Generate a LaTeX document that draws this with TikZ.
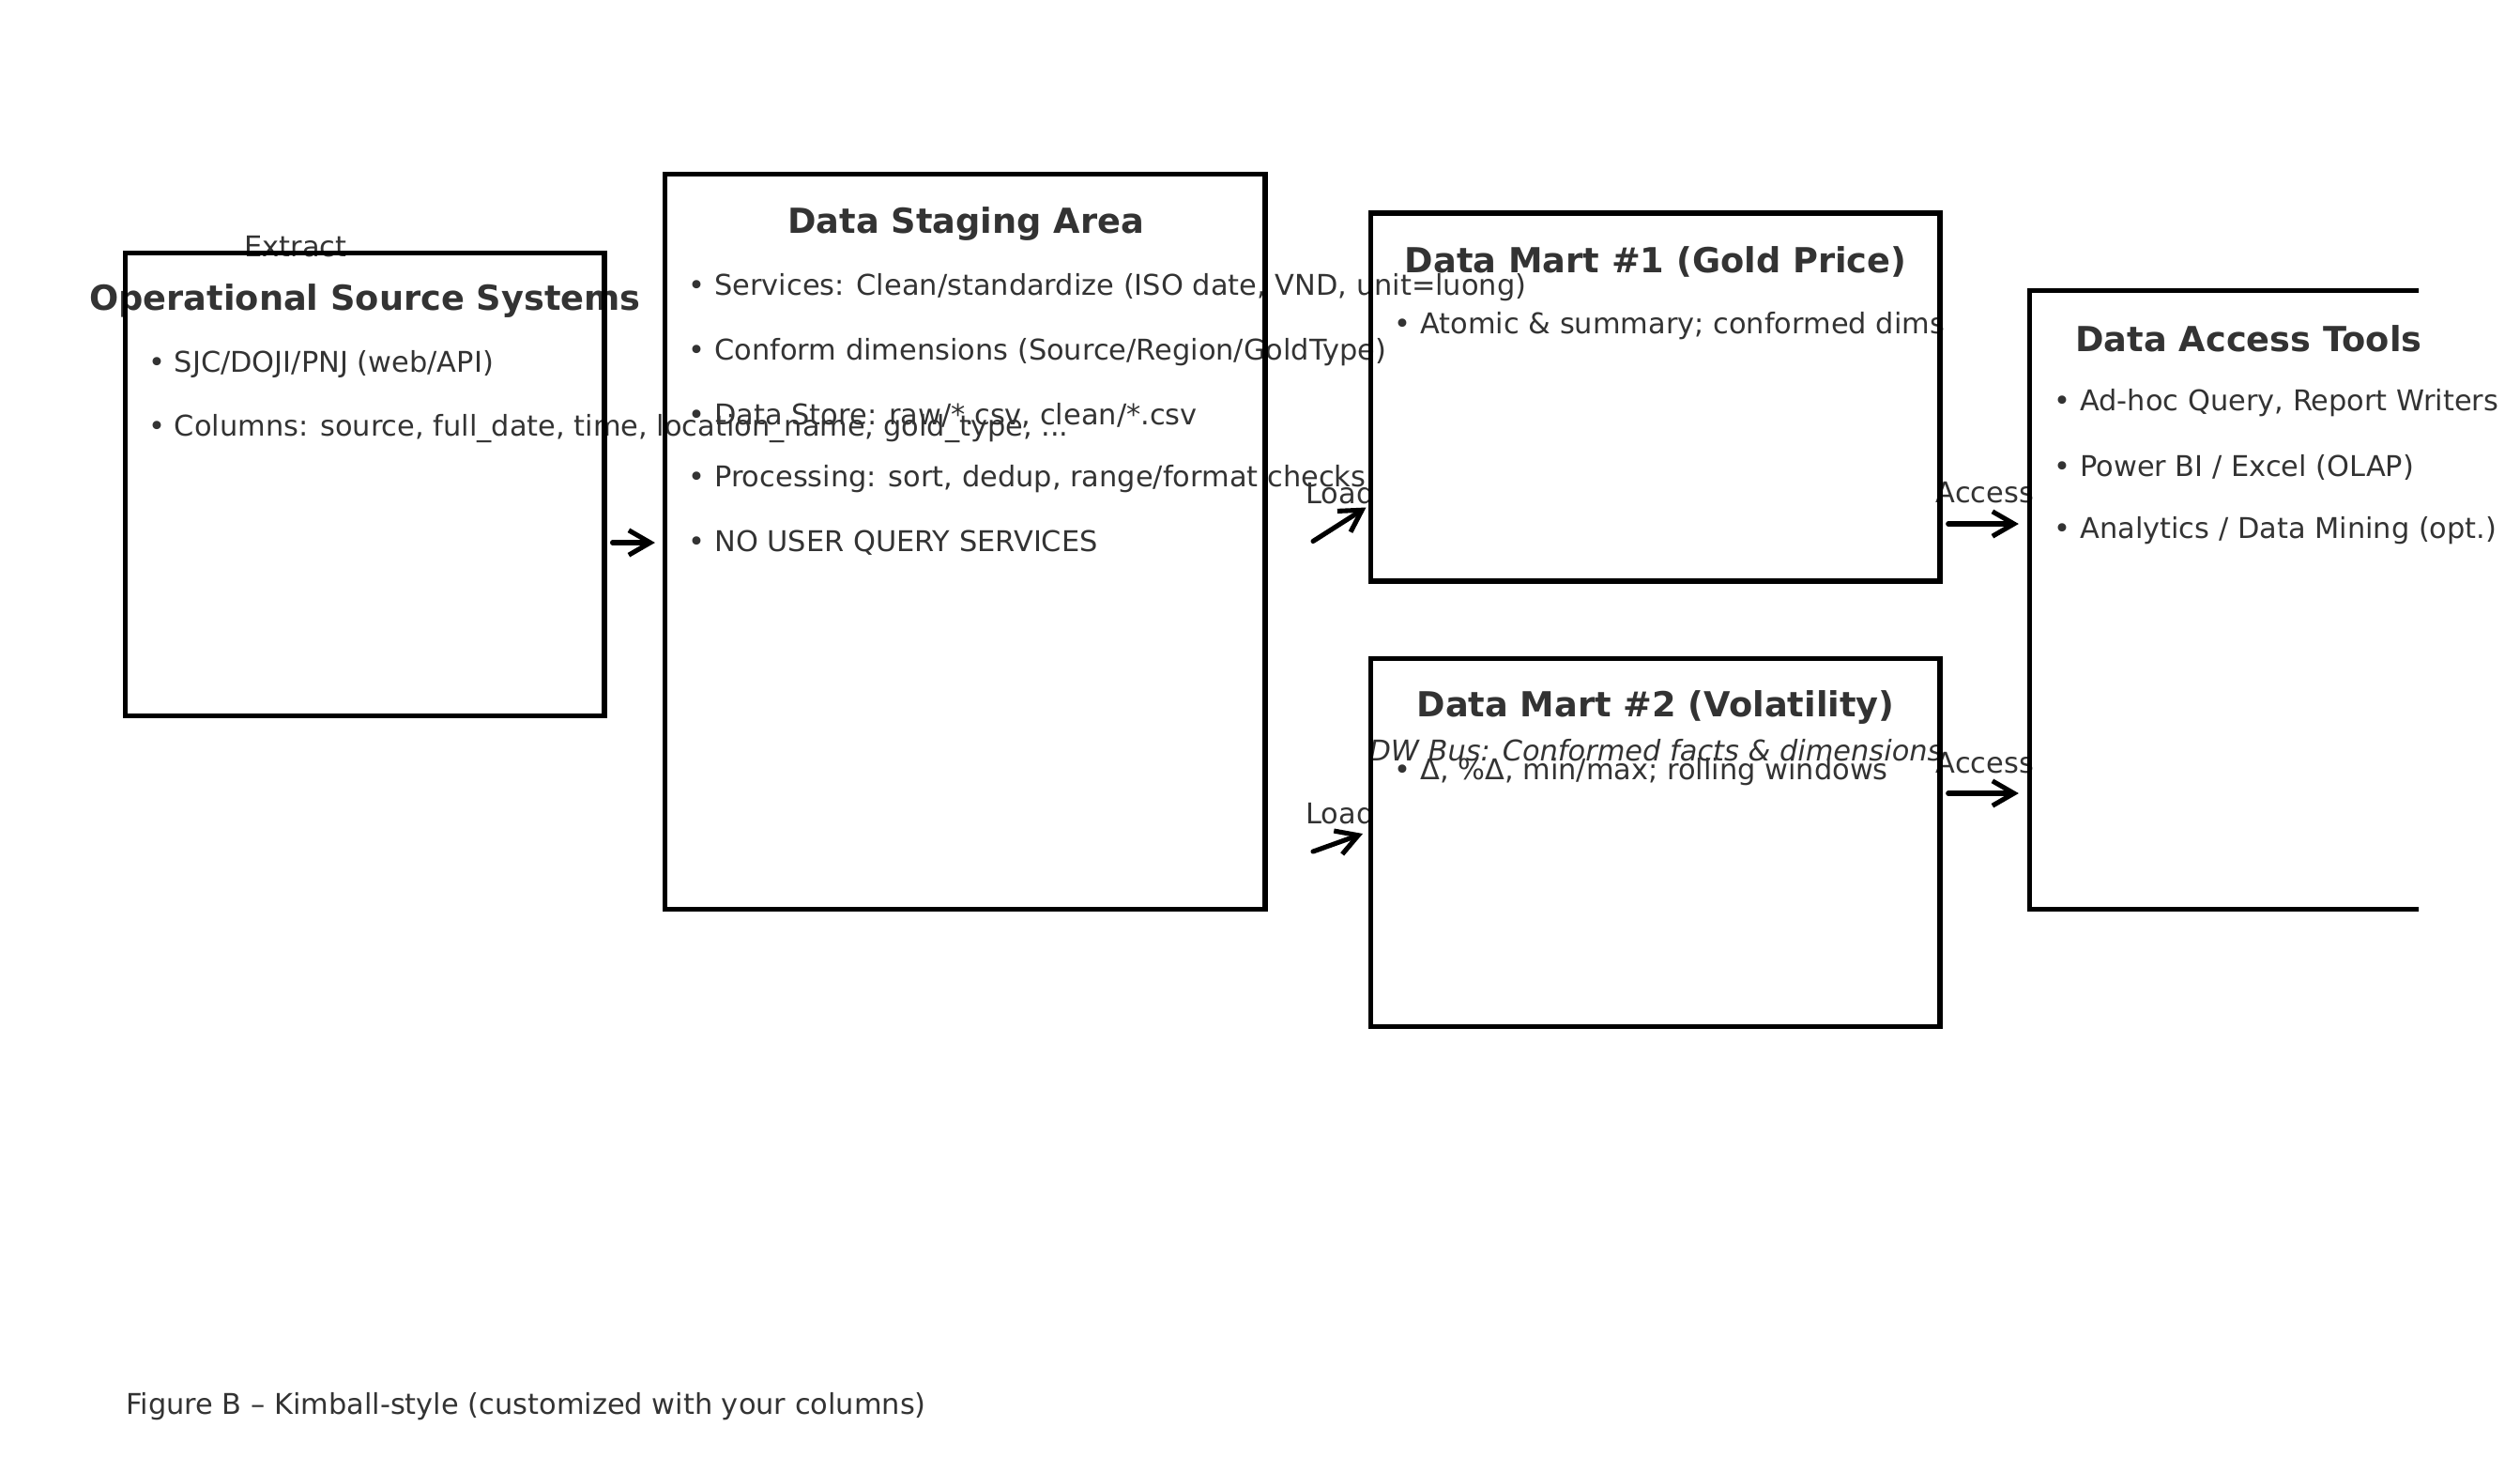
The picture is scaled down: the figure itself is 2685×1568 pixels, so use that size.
\documentclass[tikz,border=0pt]{standalone}
\usepackage{fontspec}
\setmainfont{DejaVu Sans}
\definecolor{ink}{RGB}{51, 51, 51}
\usetikzlibrary{arrows.meta, positioning}

\begin{document}
\begin{tikzpicture}[
  x=0.01cm, y=-0.01cm,
  box/.style={draw, line width=1.55pt, inner sep=0pt},
  title/.style={text=ink, inner sep=0pt, font=\fontsize{10.45}{12}\selectfont\bfseries},
  item/.style={text=ink, inner sep=0pt, anchor=west, font=\fontsize{8.65}{10}\selectfont},
  lbl/.style={text=ink, inner sep=0pt, font=\fontsize{8.65}{10}\selectfont},
  arr/.style={-{Straight Barb[length=6.5pt, width=7.5pt]}, line width=1.45pt, line cap=round}
]
  \useasboundingbox (0,0) rectangle (2685,1568);

  % texts first, the box lines go over them
  \node[lbl] (extract) at (315, 263) {Extract};

  \node[title] (srcT) at (389, 320) {Operational Source Systems};
  \node[item] (src1) at (157.5, 388) {• SJC/DOJI/PNJ (web/API)};
  \node[item] (src2) at (157.5, 457) {• Columns: source, full\_date, time, location\_name, gold\_type, ...};

  \node[title] (stgT) at (1029, 238) {Data Staging Area};
  \node[item] (stg1) at (733, 306) {• Services: Clean/standardize (ISO date, VND, unit=luong)};
  \node[item] (stg2) at (733, 375) {• Conform dimensions (Source/Region/GoldType)};
  \node[item] (stg3) at (733, 443) {• Data Store: raw/*.csv, clean/*.csv};
  \node[item] (stg4) at (733, 510) {• Processing: sort, dedup, range/format checks};
  \node[item] (stg5) at (733, 578) {• NO USER QUERY SERVICES};

  \node[title] (dm1T) at (1764, 279) {Data Mart \#1 (Gold Price)};
  \node[item] (dm11) at (1485, 347) {• Atomic \& summary; conformed dims};

  \node[title] (dm2T) at (1764, 753) {Data Mart \#2 (Volatility)};
  \node[lbl, font=\fontsize{8.65}{10}\selectfont\itshape] (bus) at (1764, 799) {DW Bus: Conformed facts \& dimensions};
  \node[item] (dm21) at (1485, 822) {• Δ, \%Δ, min/max; rolling windows};

  \node[title] (dat) at (2396, 361) {Data Access Tools};
  \node[item] (dat1) at (2188, 429) {• Ad-hoc Query, Report Writers};
  \node[item] (dat2) at (2188, 498) {• Power BI / Excel (OLAP)};
  \node[item] (dat3) at (2188, 565) {• Analytics / Data Mining (opt.)};

  \node[lbl] (load1) at (1428, 525) {Load};
  \node[lbl] (load2) at (1428, 866) {Load};
  \node[lbl] (acc1) at (2115, 525) {Access};
  \node[lbl] (acc2) at (2115, 813) {Access};

  \node[lbl, anchor=west] (caption) at (133.6, 1498) {Figure B – Kimball-style (customized with your columns)};

  % boxes
  \node[box, minimum width=5.10cm, minimum height=4.93cm] (src) at (388.7, 516) {};
  \node[box, minimum width=6.39cm, minimum height=7.83cm] (stage) at (1028.3, 577) {};
  \node[box, minimum width=6.06cm, minimum height=3.92cm] (mart1) at (1763.8, 423) {};
  \node[box, minimum width=6.06cm, minimum height=3.92cm] (mart2) at (1763.8, 897.5) {};
  \begin{scope}
    \clip (0,0) rectangle (2577,1568);
    \node[box, minimum width=4.66cm, minimum height=6.59cm] (tools) at (2395.7, 639) {};
  \end{scope}

  % arrows
  \draw[arr, shorten <=0.06cm, shorten >=0.08cm] (src.east |- 0,578) -- (stage.west |- 0,578);
  \coordinate (l1a) at (1399, 576.5);
  \coordinate (l1b) at (1455.5, 540.5);
  \coordinate (l2a) at (1399, 907);
  \coordinate (l2b) at (1452, 888);
  \draw[arr] (l1a) -- (l1b);
  \draw[arr] (l2a) -- (l2b);
  \draw[arr, shorten <=0.06cm, shorten >=0.09cm] (mart1.east |- 0,558) -- (tools.west |- 0,558);
  \draw[arr, shorten <=0.06cm, shorten >=0.09cm] (mart2.east |- 0,845) -- (tools.west |- 0,845);
\end{tikzpicture}
\end{document}
